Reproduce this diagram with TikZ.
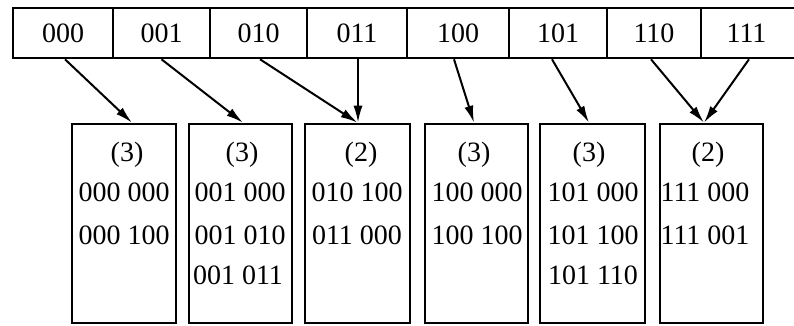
\documentclass[tikz,border=0pt]{standalone}
\usepackage{fontspec}
\setmainfont{Liberation Serif}
\usetikzlibrary{arrows.meta}
\begin{document}
\begin{tikzpicture}[x=1pt,y=-1pt,
  cell/.style={draw,line width=2.6pt,inner sep=0pt,font=\fontsize{28}{28}\selectfont},
  bucket/.style={draw,line width=2.6pt,inner sep=0pt},
  txt/.style={inner sep=0pt,font=\fontsize{28}{28}\selectfont},
  ptr/.style={line width=2pt,-{Latex[length=17pt,width=9pt]}}]
\useasboundingbox (0,0) rectangle (794,326);
\begin{scope}
\clip (0,0) rectangle (794,326);
% directory cells
\node[cell,minimum width=100pt,minimum height=50pt] (c0) at (63,33) {000};
\node[cell,minimum width=97pt,minimum height=50pt] (c1) at (161.5,33) {001};
\node[cell,minimum width=97pt,minimum height=50pt] (c2) at (258.5,33) {010};
\node[cell,minimum width=100pt,minimum height=50pt] (c3) at (357,33) {011};
\node[cell,minimum width=102pt,minimum height=50pt] (c4) at (458,33) {100};
\node[cell,minimum width=98pt,minimum height=50pt] (c5) at (558,33) {101};
\node[cell,minimum width=94pt,minimum height=50pt] (c6) at (654,33) {110};
\node[cell,minimum width=99pt,minimum height=50pt] (c7) at (750.5,33) {\hspace*{-8pt}111};
% buckets
\node[bucket,minimum width=104pt,minimum height=199pt] (b1) at (124,223.5) {};
\node[bucket,minimum width=103pt,minimum height=199pt] (b2) at (240.5,223.5) {};
\node[bucket,minimum width=105pt,minimum height=199pt] (b3) at (357.5,223.5) {};
\node[bucket,minimum width=103pt,minimum height=199pt] (b4) at (476.5,223.5) {};
\node[bucket,minimum width=105pt,minimum height=199pt] (b5) at (592.5,223.5) {};
\node[bucket,minimum width=103pt,minimum height=199pt] (b6) at (711.5,223.5) {};
% bucket contents
\node[txt] (b1d) at (127,155) {(3)};
\node[txt] (b1a) at (124,192) {000 000};
\node[txt] (b1b) at (124,235) {000 100};
\node[txt] (b2d) at (242,155) {(3)};
\node[txt] (b2a) at (240,192) {001 000};
\node[txt] (b2b) at (240,235) {001 010};
\node[txt] (b2c) at (238,275) {001 011};
\node[txt] (b3d) at (361,155) {(2)};
\node[txt] (b3a) at (357,192) {010 100};
\node[txt] (b3b) at (357,235) {011 000};
\node[txt] (b4d) at (474,155) {(3)};
\node[txt] (b4a) at (477,192) {100 000};
\node[txt] (b4b) at (477,235) {100 100};
\node[txt] (b5d) at (589,155) {(3)};
\node[txt] (b5a) at (593,192) {101 000};
\node[txt] (b5b) at (593,235) {101 100};
\node[txt] (b5c) at (593,275) {101 110};
\node[txt] (b6d) at (708,155) {(2)};
\node[txt] (b6a) at (705,192) {111 000};
\node[txt] (b6b) at (705,235) {111 001};
% pointers
\draw[ptr] ([xshift=2pt]c0.south) -- ([xshift=8pt]b1.north);
\draw[ptr] (c1.south) -- ([xshift=2.5pt]b2.north);
\draw[ptr] ([xshift=1.5pt]c2.south) -- (b3.north);
\draw[ptr] ([xshift=1pt]c3.south) -- ([xshift=0.5pt]b3.north);
\draw[ptr] ([xshift=-4pt]c4.south) -- ([xshift=-2.5pt]b4.north);
\draw[ptr] ([xshift=-6pt]c5.south) -- ([xshift=-3.5pt]b5.north);
\draw[ptr] ([xshift=-3pt]c6.south) -- ([xshift=-7.5pt]b6.north);
\draw[ptr] ([xshift=-1.5pt]c7.south) -- ([xshift=-7.5pt]b6.north);
\end{scope}
\end{tikzpicture}
\end{document}
